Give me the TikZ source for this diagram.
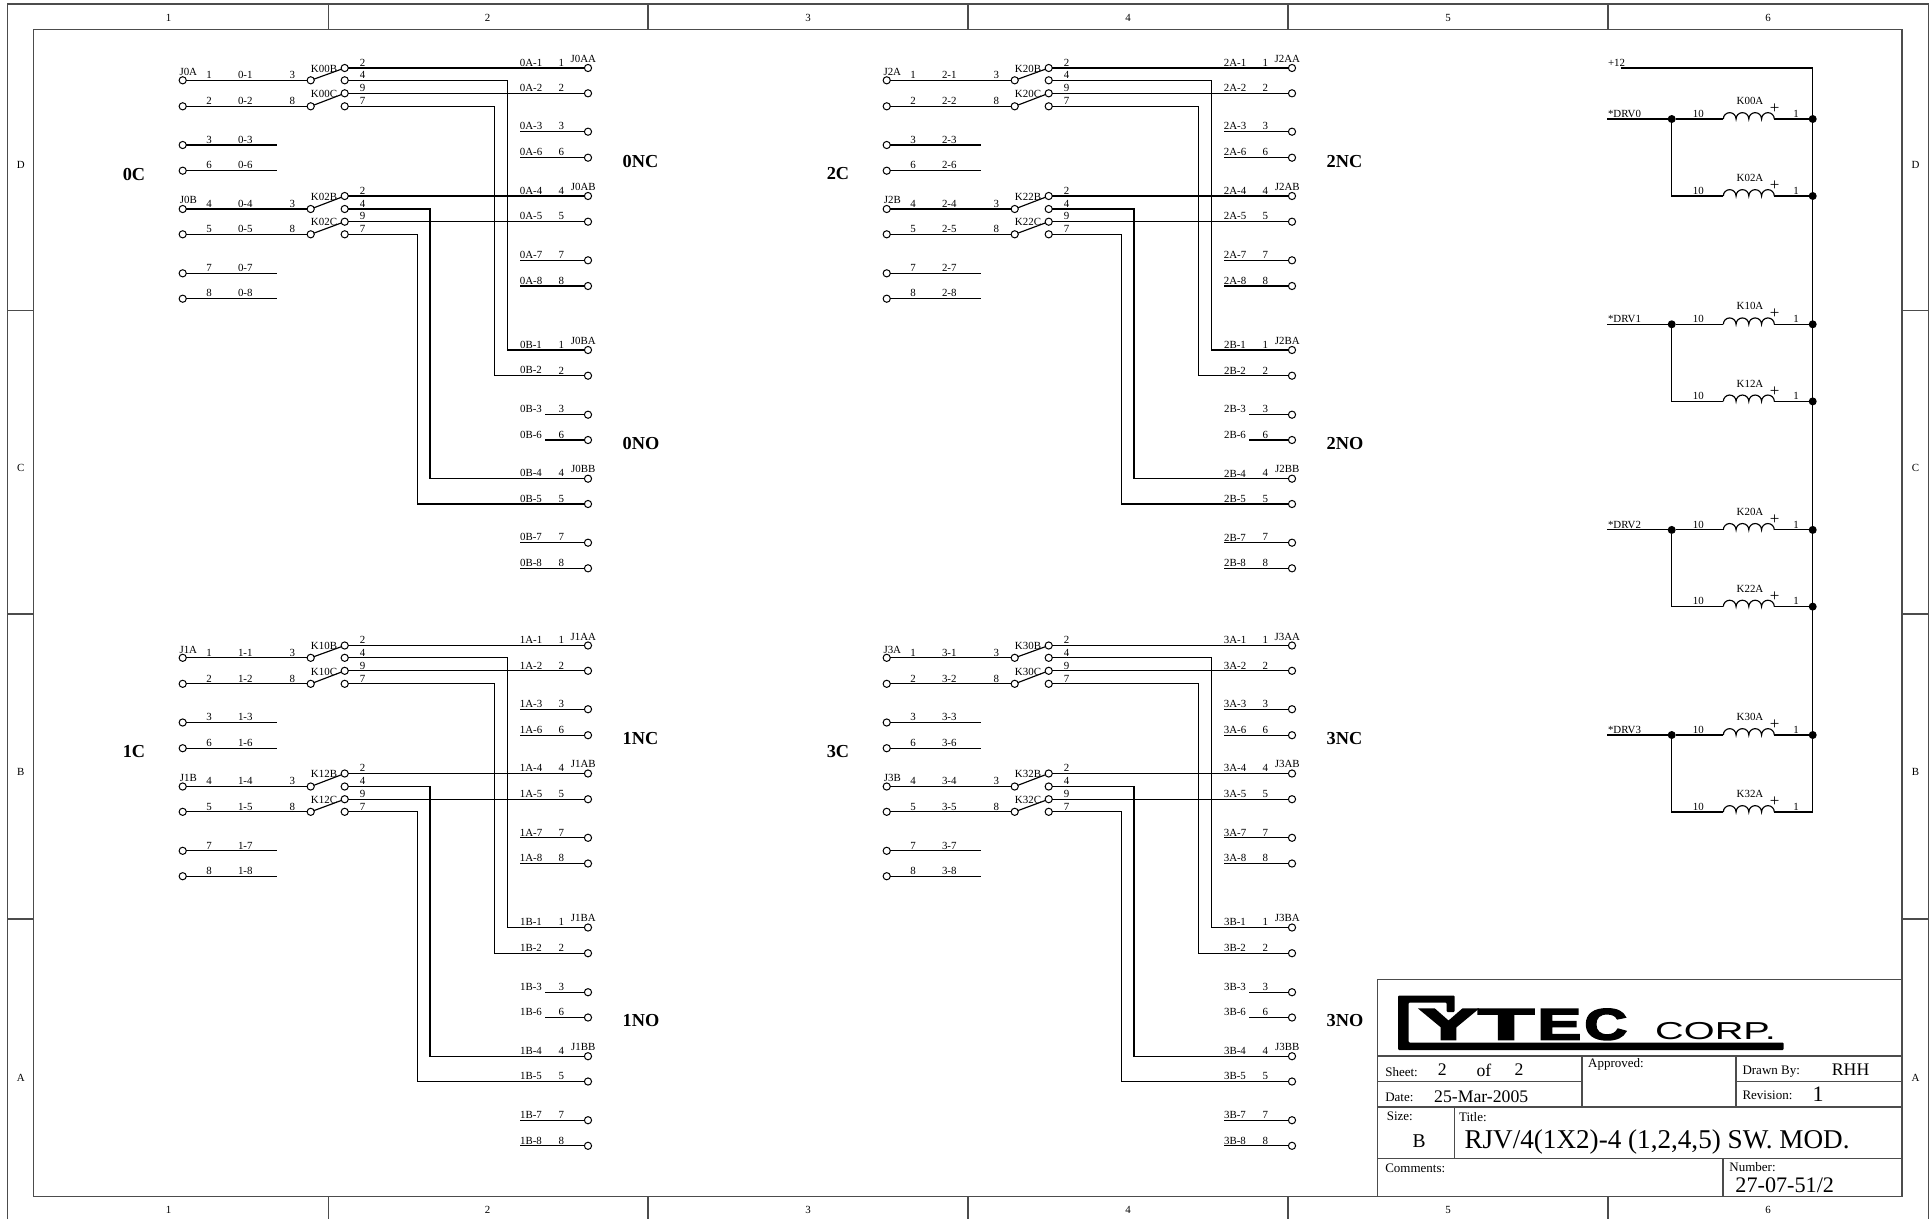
\documentclass[tikz,border=0pt]{standalone}
\usepackage{fontspec}
\usepackage{graphicx}
\setmainfont{Liberation Serif}
\newfontfamily\logofont[FakeBold=3.5]{Liberation Sans Bold}
\newfontfamily\corpfont{Liberation Sans}
\definecolor{framec}{gray}{0.3}
\newcommand{\fs}[1]{\fontsize{#1}{#1}\selectfont}
\tikzset{
  lab/.style={font=\fs{10.9},inner sep=0pt,outer sep=0pt,anchor=center,yshift=-0.7pt},
  tbsmall/.style={font=\fs{13},inner sep=0pt,outer sep=0pt,anchor=west,yshift=-0.7pt},
  tbbig/.style={font=\fs{17.7},inner sep=0pt,outer sep=0pt,anchor=center,yshift=-0.7pt},
  blocklab/.style={font=\fs{18.3}\bfseries,inner sep=0pt,outer sep=0pt,anchor=west,yshift=-0.7pt},
  framelab/.style={font=\fs{10.9},inner sep=0pt,outer sep=0pt,anchor=center,yshift=-0.7pt},
  pinc/.style={circle,draw=black,fill=white,line width=1pt,inner sep=0pt,outer sep=0pt,minimum size=7.2pt},
  dotc/.style={circle,fill=black,inner sep=0pt,outer sep=0pt,minimum size=8pt},
  cornerc/.style={inner sep=0pt,outer sep=0pt,minimum size=0pt},
  wire/.style={line width=1.15pt,black},
  framel/.style={line width=1.3pt,framec},
}
\newcommand{\schemblock}[3]{%
\begin{scope}[shift={(#2,#3)}]
  % left pins and their row labels
  \foreach \pn/\yv in {1/80.3,2/106.3,3/145,6/170.7,4/209,5/234.3,7/273.3,8/298.7}{
    \node[pinc] (b#1L\pn) at (182.7,\yv) {};
    \node[lab] (b#1Ln\pn) at (209,\yv-6) {\pn};
    \node[lab] (b#1Lw\pn) at (245.3,\yv-6) {#1-\pn};
  }
  \foreach \pn/\yv in {3/145,6/170.7,7/273.3,8/298.7}{
    \coordinate (b#1Le\pn) at (276.7,\yv);
    \draw[wire] (b#1L\pn) -- (b#1Le\pn);
  }
  % switches: name, left row, contact rows
  \foreach \pn/\yv/\num/\ktxt/\yu/\yd/\nu/\nd/\xb/\ta/\tb in {
     1/80.3/3/K#10B/68/80.3/2/4/507.3/1/1,
     2/106.3/8/K#10C/93.3/106.3/9/7/494.3/2/2,
     4/209/3/K#12B/196/209/2/4/430/4/4,
     5/234.3/8/K#12C/221.7/234.3/9/7/417.3/5/5}{
    \node[pinc] (b#1S\pn) at (310.7,\yv) {};
    \node[pinc] (b#1U\pn) at (344.7,\yu) {};
    \node[pinc] (b#1D\pn) at (344.7,\yd) {};
    \node[lab] (b#1Sn\pn) at (292.3,\yv-6) {\num};
    \node[lab] (b#1K\pn) at (324,\yu) {\ktxt};
    \node[lab] (b#1Un\pn) at (362.7,\yu-6) {\nu};
    \node[lab] (b#1Dn\pn) at (362.7,\yd-6) {\nd};
    \draw[wire] (b#1L\pn) -- (b#1S\pn);
    \draw[wire] (b#1S\pn) -- (b#1U\pn);
    \coordinate (b#1C\pn) at (\xb,\yd);
  }
  % right pins A
  \foreach \pn/\yv in {1/68,2/93.3,3/131.7,6/157.7,4/196,5/221.7,7/260.3,8/286}{
    \node[pinc] (b#1A\pn) at (588,\yv) {};
    \node[lab] (b#1An\pn) at (531,\yv-6) {#1A-\pn};
    \node[lab] (b#1Am\pn) at (561.3,\yv-6) {\pn};
  }
  % right pins B
  \foreach \pn/\yv in {1/350,2/375.7,3/414.7,6/440,4/478.7,5/504,7/542.7,8/568.3}{
    \node[pinc] (b#1B\pn) at (588,\yv) {};
    \node[lab] (b#1Bn\pn) at (531,\yv-6) {#1B-\pn};
    \node[lab] (b#1Bm\pn) at (561.3,\yv-6) {\pn};
  }
  % through wires
  \foreach \pn in {1,2,4,5}{
    \draw[wire] (b#1U\pn) -- (b#1A\pn);
    \draw[wire] (b#1D\pn) -- (b#1C\pn) |- (b#1B\pn);
  }
  % free stubs
  \foreach \pn/\yv in {3/131.7,6/157.7,7/260.3,8/286}{
    \coordinate (b#1As\pn) at (520,\yv);
    \draw[wire] (b#1As\pn) -- (b#1A\pn);
  }
  \foreach \pn/\yv/\xs in {3/414.7/545,6/440/545,7/542.7/520,8/568.3/520}{
    \coordinate (b#1Bs\pn) at (\xs,\yv);
    \draw[wire] (b#1Bs\pn) -- (b#1B\pn);
  }
  % connector names
  \node[lab] (b#1JA) at (188.3,71.7) {J#1A};
  \node[lab] (b#1JB) at (188.3,199.5) {J#1B};
  \node[lab] (b#1JAA) at (583.3,58.3) {J#1AA};
  \node[lab] (b#1JAB) at (583.3,186) {J#1AB};
  \node[lab] (b#1JBA) at (583.3,340) {J#1BA};
  \node[lab] (b#1JBB) at (583.3,468.3) {J#1BB};
  \node[blocklab,anchor=center] (b#1Cl) at (134,173.3) {#1C};
  \node[blocklab] (b#1NC) at (622.7,160.7) {#1NC};
  \node[blocklab] (b#1NO) at (622.7,442.7) {#1NO};
\end{scope}}
\newcommand{\coilrow}[4]{% id, y, name, right style
  \coordinate (cs#1) at (1723.3,#2);
  \coordinate (ce#1) at (1774.3,#2);
  \draw[wire] (cs#1) arc[start angle=180,end angle=360,radius=6.375]
     arc[start angle=180,end angle=360,radius=6.375]
     arc[start angle=180,end angle=360,radius=6.375]
     arc[start angle=180,end angle=360,radius=6.375];
  \node[lab] (cn#1) at (1750,#2-18.7) {#3};
  \node[lab] (ct#1) at (1698.3,#2-6) {10};
  \node[lab] (co#1) at (1796,#2-6) {1};
  \node[inner sep=0pt,font=\fs{17}] (cp#1) at (1774.6,#2-10.2) {+};
  \node[#4] (cr#1) at (1812.7,#2) {};
  \draw[wire] (ce#1) -- (cr#1);
}
\begin{document}
\begin{tikzpicture}[x=1pt,y=-1pt]
\useasboundingbox (0,0) rectangle (1929,1219);
% frame
\draw[framel] (7.7,1219) -- (7.7,4) -- (1928.3,4) -- (1928.3,1219);
\draw[framel] (33.3,29.7) rectangle (1902,1196.7);
\foreach \xv in {328.5,648,968,1288,1608}{
  \draw[framel] (\xv,4) -- (\xv,29.7);
  \draw[framel] (\xv,1196.7) -- (\xv,1219);
}
\foreach \yv in {310.3,614,919}{
  \draw[framel] (7.7,\yv) -- (33.3,\yv);
  \draw[framel] (1902,\yv) -- (1928.3,\yv);
}
\foreach \tx/\xv in {1/168.5,2/487.5,3/808,4/1128,5/1448,6/1768}{
  \node[framelab] (ct\tx) at (\xv,17) {\tx};
  \node[framelab] (cb\tx) at (\xv,1209.5) {\tx};
}
\foreach \tx/\yv in {D/164.3,C/467.5,B/771.5,A/1077}{
  \node[framelab] (rl\tx) at (20.7,\yv) {\tx};
  \node[framelab] (rr\tx) at (1915.5,\yv) {\tx};
}
% switch blocks
\schemblock{0}{0}{0}
\schemblock{1}{0}{577.5}
\schemblock{2}{704}{0}
\schemblock{3}{704}{577.5}
% relay coils
\node[lab,anchor=west] (p12) at (1608,62.3) {+12};
\coordinate (p12s) at (1620.7,68);
\coordinate (busc) at (1812.7,68);
\coilrow{00}{119}{K00A}{dotc}
\coilrow{02}{196}{K02A}{dotc}
\coilrow{10}{324.3}{K10A}{dotc}
\coilrow{12}{401.4}{K12A}{dotc}
\coilrow{20}{529.9}{K20A}{dotc}
\coilrow{22}{606.6}{K22A}{dotc}
\coilrow{30}{735}{K30A}{dotc}
\coilrow{32}{812}{K32A}{cornerc}
\draw[wire] (p12s) -- (busc) -- (cr32.center);
\foreach \k/\ya/\yb in {0/119/196,1/324.3/401.4,2/529.9/606.6,3/735/812}{
  \node[lab,anchor=west] (drv\k) at (1608,\ya-6) {*DRV\k};
  \coordinate (ds\k) at (1607.3,\ya);
  \node[dotc] (dd\k) at (1671.7,\ya) {};
  \coordinate (dc\k) at (1671.7,\yb);
  \draw[wire] (ds\k) -- (dd\k);
  \draw[wire] (dd\k) -- (cs\k0);
  \draw[wire] (dd\k) -- (dc\k) -- (cs\k2);
}
% title block
\draw[framel] (1377.5,979.3) rectangle (1902,1196.7);
\draw[framel] (1377.5,1056) -- (1902,1056);
\draw[framel] (1377.5,1107) -- (1902,1107);
\draw[framel] (1377.5,1158.3) -- (1902,1158.3);
\draw[framel] (1377.5,1081.7) -- (1582,1081.7);
\draw[framel] (1736,1081.7) -- (1902,1081.7);
\draw[framel] (1582,1056) -- (1582,1107);
\draw[framel] (1736,1056) -- (1736,1107);
\draw[framel] (1454.5,1107) -- (1454.5,1158.3);
\draw[framel] (1723,1158.3) -- (1723,1196.7);
% logo
\fill[black,rounded corners=1pt] (1398,995.5) -- (1454.5,995.5) -- (1454.5,1012) -- (1446.5,1012) -- (1446.5,1002.5) -- (1408.5,1002.5) -- (1408.5,1042.5) -- (1783.5,1042.5) -- (1783.5,1050) -- (1398,1050) -- cycle;
\node[inner sep=0pt,anchor=base west,font=\logofont\fs{44}] (logoa) at (1419,1039.5) {\scalebox{2.0}[1]{Y}\scalebox{2.1}[1]{T}\hspace{3pt}\scalebox{1.5}[1]{E}\hspace{3pt}\scalebox{1.35}[1]{C}};
\node[inner sep=0pt,anchor=base west,font=\corpfont\fs{24.5}] (logob) at (1655,1039.3) {\scalebox{1.62}[1]{CORP.}};
% title block text
\node[tbsmall] (t1) at (1385.3,1071) {Sheet:};
\node[tbbig] (t2) at (1442.4,1069.3) {2};
\node[tbbig] (t3) at (1484,1069.3) {of};
\node[tbbig] (t4) at (1519,1069.3) {2};
\node[tbsmall] (t5) at (1385.3,1097) {Date:};
\node[tbbig,anchor=west] (t6) at (1434.2,1095.5) {25-Mar-2005};
\node[tbsmall] (t7) at (1588.2,1064) {Approved:};
\node[tbsmall] (t8) at (1742.5,1070.7) {Drawn By:};
\node[tbbig] (t9) at (1850.6,1068.7) {RHH};
\node[tbsmall] (t10) at (1742.5,1095) {Revision:};
\node[tbbig,font=\fs{22}] (t11) at (1818,1094) {1};
\node[tbsmall] (t12) at (1386.8,1115.7) {Size:};
\node[tbbig,font=\fs{19.5}] (t13) at (1419.2,1140) {B};
\node[tbsmall] (t14) at (1459,1116.7) {Title:};
\node[tbbig,anchor=west,font=\fs{27.15}] (t15) at (1464.5,1141) {RJV/4(1X2)-4 (1,2,4,5) SW. MOD.};
\node[tbsmall] (t16) at (1385.3,1167.7) {Comments:};
\node[tbsmall] (t17) at (1729.4,1166.7) {Number:};
\node[tbbig,anchor=west,font=\fs{22.2}] (t18) at (1735.4,1185) {27-07-51/2};
\end{tikzpicture}
\end{document}
